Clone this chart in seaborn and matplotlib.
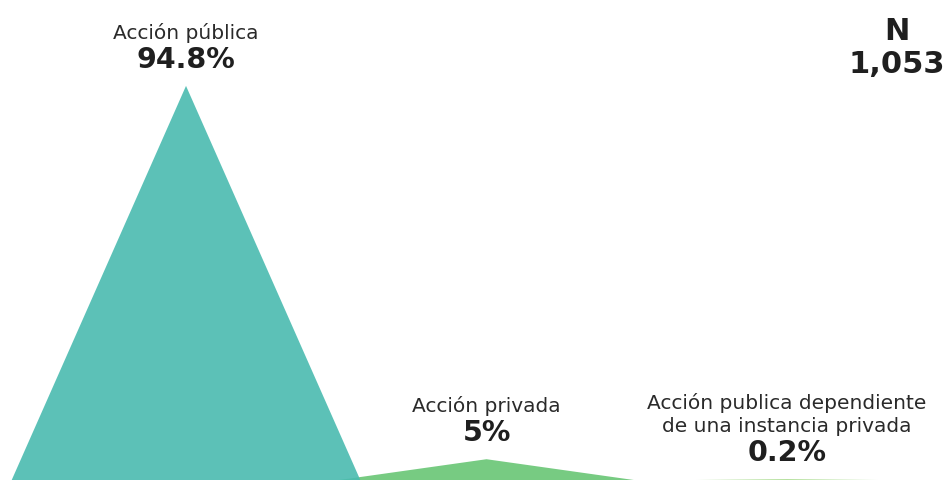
import matplotlib
matplotlib.use("Agg")
import matplotlib.pyplot as plt
import seaborn as sns

# Chart data
categories = ["Acción pública", "Acción privada", "Acción publica dependiente\nde una instancia privada"]
shares = [94.8, 5.0, 0.2]
share_labels = ["94.8%", "5%", "0.2%"]
total_n = "1,053"

# Styling
colors = ["#4abbb0", "#77cb82", "#a9dc8e"]
alphas = [0.9, 1.0, 1.0]
zorders = [5, 3, 2]
half_widths = [0.58, 0.49, 0.3]

sns.set_theme(style="white")
plt.rcParams["font.family"] = ["DejaVu Sans"]

fig = plt.figure(figsize=(9.49, 4.81), dpi=100)
ax = fig.add_axes([0, 0, 1, 1])

for i, (val, hw, col) in enumerate(zip(shares, half_widths, colors)):
    ax.fill([i - hw, i, i + hw], [0, val, 0], color=col, alpha=alphas[i], lw=0, zorder=zorders[i])
    ax.annotate(share_labels[i], (i, val), xytext=(0, 13), textcoords="offset pixels",
                ha="center", va="bottom", fontsize=20.5, fontweight="bold", color="#1f1f1f")
    ax.annotate(categories[i], (i, val), xytext=(0, 44), textcoords="offset pixels",
                ha="center", va="bottom", fontsize=14.5, color="#2a2a2a", linespacing=1.3)

ax.text(0.945, 0.965, "N\n" + total_n, transform=ax.transAxes, ha="center", va="top",
        fontsize=22, fontweight="bold", color="#1f1f1f", linespacing=1.2)

ax.set_xlim(-0.619, 2.539)
ax.set_ylim(0, 115.7)
ax.axis("off")

fig.savefig("out.png", dpi=100, facecolor="white")
